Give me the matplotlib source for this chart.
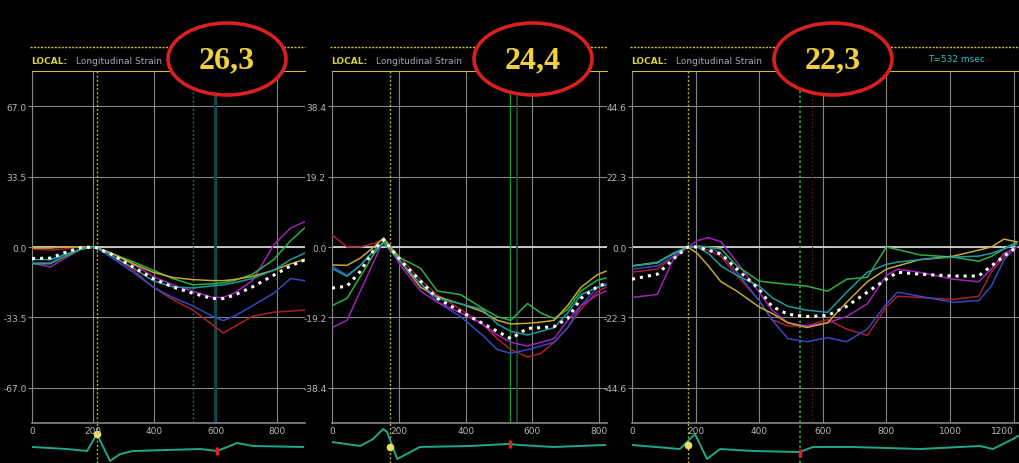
import matplotlib
matplotlib.use("Agg")
import matplotlib.pyplot as plt
import numpy as np
from matplotlib import font_manager
from matplotlib.lines import Line2D
from matplotlib.patches import Ellipse

W, H = 1019, 464

# peak strain values written in the red ovals
peak_labels = ["26,3", "24,4", "22,3"]
# full-scale strain of each panel (%) and x extent (ms)
y_scales = [67.0, 38.4, 44.6]
x_limits = [892, 823, 1217]

# --- panel 1 strain curves (%), sampled at p1_time (ms)
p1_time = [0, 60, 100, 160, 205, 260, 330, 395, 460, 525, 590, 625, 660, 720, 790, 845, 890]
p1_avg = [-5.5, -5.3, -3, -0.3, 0, -3.5, -9.5, -15, -19, -22, -24.5, -24.5, -23, -19, -13.4, -9, -6.2]
p1_red = [-1, -1.5, -1, 0, 0, -4, -11, -19, -25, -30, -37, -41, -38, -33, -31, -30.5, -30]
p1_blue = [-7.5, -7.5, -4, -1, 0, -5, -12, -19, -24, -28, -33, -35, -33, -28, -22, -15, -16]
p1_magenta = [-7.7, -9.5, -6, -1, 0, -3, -8, -14, -18, -21, -24, -24, -22, -16, 1, 9, 12]
p1_green = [-8, -8, -5, -1, 0, -3, -7, -11, -15, -18, -17.5, -17, -16, -13, -6, 3, 9]
p1_yellow = [-0.5, -0.5, 0, 0, 0, -3, -8, -12, -14.5, -15.5, -16, -16, -15.5, -14, -11, -8, -6]
p1_cyan = [-6, -6, -4, -1, 0, -4, -10, -16, -19, -19.5, -18.5, -18, -17, -15, -11, -6, -3]

# --- panel 2
p2_time = [0, 45, 85, 125, 155, 205, 265, 315, 385, 450, 495, 535, 585, 625, 665, 705, 745, 795, 820]
p2_avg = [-11.2, -10.7, -6.6, -0.8, 2, -3.6, -9.3, -14, -17.6, -20.8, -23, -25, -22.2, -22, -21.7, -19.5, -14, -10.7, -10]
p2_red = [3.3, 0, 0, 1, 2, -3, -9, -13, -17, -21, -25, -28, -30, -29, -26, -22, -17, -12, -11]
p2_blue = [-5.2, -7.7, -5, -1, 1.5, -4, -10, -15, -19, -24, -28, -29, -28, -27, -26, -22, -16, -11, -10]
p2_magenta = [-22, -20, -12, -4, 2, -5, -12, -15, -18, -21, -24, -26, -27, -26, -25, -20, -16, -13, -12]
p2_green = [-16, -14, -8, -2, 1.6, -3, -5.8, -12, -13, -16.7, -19, -20, -15.4, -18, -19.5, -17, -12, -9, -8.5]
p2_yellow = [-4.9, -5, -3, 0, 2.5, -4, -11, -13.5, -15.5, -17.6, -20, -21, -20.8, -20.5, -20, -16, -11, -7.5, -6.6]
p2_cyan = [-5.8, -8, -5, -1, 1, -4, -10, -14, -15.5, -17, -21, -23, -24, -23, -22, -18, -13, -11, -10.4]

# --- panel 3
p3_time = [0, 80, 130, 175, 205, 240, 280, 330, 400, 440, 490, 550, 615, 675, 740, 800, 835, 905, 1010, 1090, 1130, 1170, 1210]
p3_avg = [-10.2, -8.6, -3.8, 0, 0, -1, -2.2, -7, -13.4, -18.8, -21.3, -22, -21.7, -18.8, -14.3, -10.2, -8, -8.6, -9.2, -9.2, -6, -2.9, 0]
p3_green = [-6, -4.8, -2.2, 0, 0, 0, -0.6, -6, -10.8, -11.3, -11.8, -12.4, -14, -10.2, -9.6, 0, -0.8, -2.5, -3.2, -4.5, -3, -0.6, 1.6]
p3_magenta = [-16, -15, -3.8, 0, 2, 3, 1.6, -4.8, -14.3, -20, -24, -25, -24, -22, -18, -9, -7, -8, -10.2, -11, -7, -2, 0]
p3_blue = [-7, -6, -3, 0, 0.5, 0, -2, -8, -17, -23, -29, -30, -28.7, -30, -26, -18, -14.3, -15.6, -17.5, -17, -12.4, -4, 0]
p3_red = [-8, -7, -3, 0, 0, -1, -3, -9, -17, -23, -25, -25, -23, -26, -28, -19, -15.6, -16, -16.6, -15.6, -8, -3, 0]
p3_yellow = [-6, -5, -2, 0, -2, -6, -11, -14, -19, -21, -24, -25.5, -24, -17.5, -11, -7, -6, -4, -2.9, -1, 0, 2.5, 1.6]
p3_cyan = [-6, -5, -2, 0, 0, -2, -6, -9, -12.4, -16, -18.8, -20, -20.7, -14.3, -8, -5.5, -4.8, -4, -3.2, -2.9, -2, -0.6, 1]

# --- ECG strips (arbitrary units, 0 = baseline)
p1_ecg_t = [0, 114, 180, 212, 255, 288, 330, 549, 605, 670, 722, 886]
p1_ecg_v = [0, -2, -4, 13, -14, -7, -4, -2, -4, 4, 1, 0]
p2_ecg_t = [0, 84, 123, 153, 165, 195, 263, 413, 524, 563, 662, 817]
p2_ecg_v = [5, 1, 8, 18, 15, -12, 0, 1, 3, 2, 0, 2]
p3_ecg_t = [0, 151, 198, 236, 277, 380, 528, 569, 695, 906, 1094, 1135, 1198, 1214]
p3_ecg_v = [2, -2, 13, -12, -2, -4, -5, 0, 0, -2, 1, -2, 8, 11]

# event markers (ms)
avc_times = [212, 174, 176]
cursor_times = [526, 533, 528]
ecg_dot_v = [13, 0, 2]
ecg_mark_t = [605, 533, 528]
ecg_mark_v = [-4, 3, -6]

seg_colors = {
    "red": "#a8202c",
    "blue": "#3448c0",
    "magenta": "#a020b8",
    "green": "#2cb040",
    "yellow": "#c4a830",
    "cyan": "#1a9c9c",
}

panels = [
    dict(x=(32, 305), t=p1_time, avg=p1_avg,
         segs=dict(red=p1_red, blue=p1_blue, magenta=p1_magenta, green=p1_green,
                   yellow=p1_yellow, cyan=p1_cyan),
         ecg=(p1_ecg_t, p1_ecg_v), oval=227),
    dict(x=(332, 607), t=p2_time, avg=p2_avg,
         segs=dict(red=p2_red, blue=p2_blue, magenta=p2_magenta, green=p2_green,
                   yellow=p2_yellow, cyan=p2_cyan),
         ecg=(p2_ecg_t, p2_ecg_v), oval=533),
    dict(x=(632, 1019), t=p3_time, avg=p3_avg,
         segs=dict(red=p3_red, blue=p3_blue, magenta=p3_magenta, green=p3_green,
                   yellow=p3_yellow, cyan=p3_cyan),
         ecg=(p3_ecg_t, p3_ecg_v), oval=833),
]

names = {f.name for f in font_manager.fontManager.ttflist}
if "Liberation Sans Narrow" in names:
    ui_font, tick_fs, title_fs = "Liberation Sans Narrow", 8, 8
else:
    ui_font, tick_fs, title_fs = "DejaVu Sans", 6.5, 6.5

GRID = "#858585"
TXT = "#b8b8b8"
YEL = "#c8c038"


def px_box(x0, y0, x1, y1):
    return [x0 / W, 1 - y1 / H, (x1 - x0) / W, (y1 - y0) / H]


def fx(x):
    return x / W


def fy(y):
    return 1 - y / H


fig = plt.figure(figsize=(W / 100, H / 100), dpi=100, facecolor="black")

for i, p in enumerate(panels):
    x0, x1 = p["x"]
    ymax = y_scales[i]
    xmax = x_limits[i]

    ax = fig.add_axes(px_box(x0, 72, x1, 424))
    ax.set_facecolor("black")
    ax.set_xlim(0, xmax)
    ax.set_ylim(-1.25 * ymax, 1.25 * ymax)
    yt = [-ymax, -ymax / 2, 0, ymax / 2, ymax]
    ax.set_yticks(yt)
    ax.set_yticklabels([f"{v:.1f}" for v in yt])
    ax.set_xticks(np.arange(0, xmax + 1, 200))
    ax.grid(True, color=GRID, lw=0.8)
    ax.set_axisbelow(True)
    ax.tick_params(axis="y", colors=GRID, labelcolor=TXT, length=3, width=0.8,
                   pad=1, labelsize=tick_fs)
    ax.tick_params(axis="x", length=0, labelcolor=TXT, pad=2.5, labelsize=tick_fs)
    for lab in ax.get_xticklabels() + ax.get_yticklabels():
        lab.set_family(ui_font)
    # last label of the wide panel sits on the right edge
    if i == 2:
        ax.get_xticklabels()[-1].set_ha("right")
    ax.spines["right"].set_visible(False)
    ax.spines["top"].set_color(YEL)
    ax.spines["top"].set_linestyle((0, (1.5, 1)))
    ax.spines["left"].set_color(GRID)
    ax.spines["bottom"].set_color(GRID)
    ax.spines["bottom"].set_linewidth(1.2)
    ax.axhline(0, color="#cfcfcf", lw=1.3, zorder=1)

    # event markers
    ax.axvline(avc_times[i], color="#b8b020", lw=1, ls=(0, (1.5, 1.5)), zorder=2)
    if i == 0:
        ax.axvline(cursor_times[i], color="#1c7a2a", lw=1, ls=(0, (1.5, 1.5)), zorder=2)
        ax.axvline(598, color="#0f4646", lw=2, zorder=2)
    elif i == 1:
        ax.axvline(cursor_times[i], color="#20903c", lw=1, zorder=2)
        ax.axvline(554, color="#1a5040", lw=1.2, zorder=2)
    else:
        ax.axvline(cursor_times[i], color="#20b040", lw=1.2, ls=(0, (1.5, 1.5)), zorder=2)
        ax.axvline(566, color="#5a1818", lw=0.8, ls=(0, (1.5, 2)), zorder=2)

    for name, vals in p["segs"].items():
        ax.plot(p["t"], vals, color=seg_colors[name], lw=1.1, zorder=3)
    ax.plot(p["t"], p["avg"], color="white", lw=2.2, ls=":", zorder=4)

    # ECG strip under the graph
    ae = fig.add_axes(px_box(x0, 424, x1, 464), zorder=-1)
    ae.set_facecolor("none")
    ae.set_xlim(0, xmax)
    ae.set_ylim(-16, 24)
    ae.axis("off")
    et, ev = p["ecg"]
    ae.axvline(avc_times[i], color="#b8b020", lw=1, ls=(0, (1.5, 1.5)))
    if i == 2:
        ae.axvline(cursor_times[i], color="#20b040", lw=1.2, ls=(0, (1.5, 1.5)))
    ae.plot(et, ev, color="#1ea888", lw=1.4)
    ae.plot([ecg_mark_t[i]] * 2, [ecg_mark_v[i] - 4, ecg_mark_v[i] + 4],
            color="#e02020", lw=2.5, solid_capstyle="butt")
    ae.plot(avc_times[i], ecg_dot_v[i], "o", ms=4.5, color="#e8e060", mec="#e8e060")

    # header bar
    fig.add_artist(Line2D([fx(x0 - 2), fx(x1)], [fy(48), fy(48)], color=YEL,
                          lw=1, ls=(0, (1.5, 1))))
    fig.text(fx(x0 - 1), fy(62), "LOCAL:", color="#d8d040", fontsize=title_fs,
             family=ui_font, fontweight="bold", va="center")
    fig.text(fx(x0 + 44), fy(62), "Longitudinal Strain", color="#a8a8b8",
             fontsize=title_fs, family=ui_font, va="center")

    # oval with the peak strain
    cx = p["oval"]
    fig.add_artist(Ellipse((fx(cx), fy(60)), 118 / W, 72 / H, facecolor="black",
                           edgecolor="#d82020", lw=2.6, zorder=5))
    fig.text(fx(cx), fy(61), peak_labels[i], color="#f0d040", fontsize=23,
             family=["Liberation Serif", "DejaVu Serif"], fontweight="bold",
             ha="center", va="center", zorder=6)

fig.text(fx(928), fy(60), "T=532 msec", color="#30c0c8", fontsize=title_fs,
         family=ui_font, va="center")

fig.savefig("out.png", dpi=100, facecolor="black")
